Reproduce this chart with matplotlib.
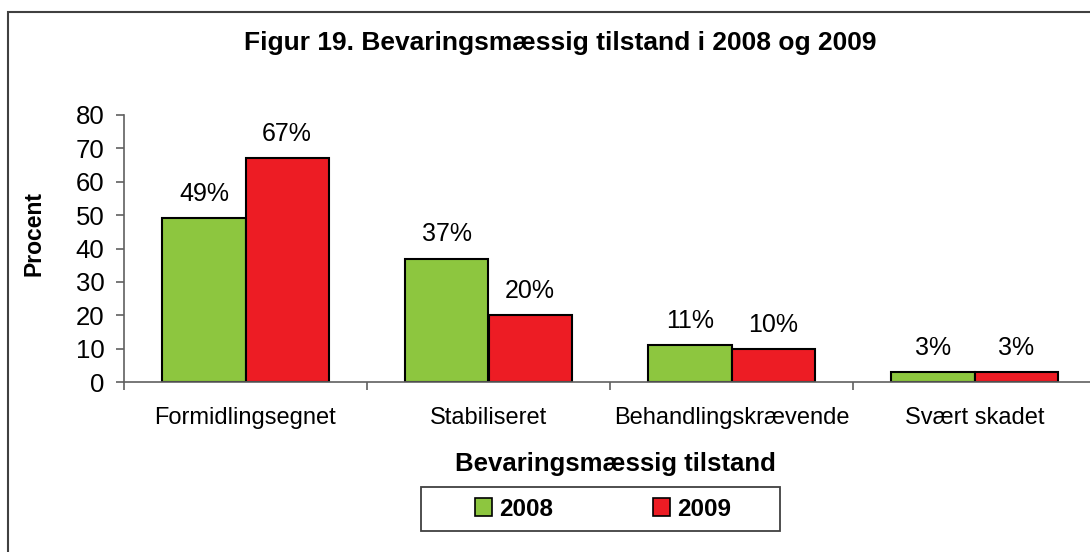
import matplotlib
matplotlib.use("Agg")
import matplotlib.pyplot as plt
from matplotlib.patches import Rectangle, Patch
import numpy as np

categories = ["Formidlingsegnet", "Stabiliseret", "Behandlingskrævende", "Svært skadet"]
years = ["2008", "2009"]
values_2008 = [49, 37, 11, 3]
values_2009 = [67, 20, 10, 3]
colors = ["#8DC63F", "#ED1C24"]

plt.rcParams['font.family'] = ['Liberation Sans', 'DejaVu Sans']

fig = plt.figure(figsize=(10.9, 5.52), dpi=100)
W, H = 1090, 552
# figure border (only top/left visible)
fig.patches.append(Rectangle((8 / W, 0 - 0.05), 1.2, 1 - 12 / H + 0.05, transform=fig.transFigure,
                             fill=False, edgecolor="#404040", linewidth=1.5, figure=fig))

left, right, bottom, top = 124, 1096, 382, 115
ax = fig.add_axes([left / W, 1 - bottom / H, (right - left) / W, (bottom - top) / H])
ax.set_clip_on(False)

x = np.arange(len(categories))
bw = 0.3416
b1 = ax.bar(x - bw / 2, values_2008, bw, color=colors[0], edgecolor="black", linewidth=1.5, label=years[0])
b2 = ax.bar(x + bw / 2, values_2009, bw, color=colors[1], edgecolor="black", linewidth=1.5, label=years[1])
for bars, vals in ((b1, values_2008), (b2, values_2009)):
    for r, v in zip(bars, vals):
        ax.text(r.get_x() + r.get_width() / 2, v + 5.1, f"{v}%", ha="center", va="baseline", fontsize=18)

ax.set_xlim(-0.5, len(categories) - 0.5)
ax.set_ylim(0, 80)
ax.set_yticks(range(0, 81, 10))
ax.set_xticks(np.arange(-0.5, len(categories), 1.0))
ax.set_xticklabels([])
ax.set_xticks(x, minor=True)
ax.set_xticklabels(categories, minor=True, fontsize=17)
ax.tick_params(axis="x", which="minor", length=0, pad=18)
ax.tick_params(axis="x", which="major", length=6, direction="out", color="#606060", width=1.2)
ax.tick_params(axis="y", labelsize=18.5, length=6, direction="out", color="#606060", width=1.2, pad=8)
for s in ("top", "right"):
    ax.spines[s].set_visible(False)
for s in ("left", "bottom"):
    ax.spines[s].set_color("#606060")
    ax.spines[s].set_linewidth(1.2)

fig.text(34 / W, 1 - 234 / H, "Procent", rotation=90, ha="center", va="center", fontsize=16.5, fontweight="bold")
fig.text(615 / W, 1 - 464 / H, "Bevaringsmæssig tilstand", ha="center", va="center", fontsize=18.5, fontweight="bold")
fig.text(560 / W, 1 - 43 / H, "Figur 19. Bevaringsmæssig tilstand i 2008 og 2009", ha="center", va="center",
         fontsize=19, fontweight="bold")

# legend frame
fig.patches.append(Rectangle((421 / W, 1 - 531 / H), (780 - 421) / W, (531 - 487) / H,
                             transform=fig.transFigure, fill=False, edgecolor="#404040",
                             linewidth=1.3, figure=fig))
handles = [Patch(facecolor=colors[0], edgecolor="black", linewidth=1.2),
           Patch(facecolor=colors[1], edgecolor="black", linewidth=1.2)]
leg = fig.legend(handles, years, loc="center", bbox_to_anchor=(603 / W, 1 - 509 / H), ncol=2,
                 prop={"size": 17.5, "weight": "bold"}, frameon=False,
                 handlelength=0.7, handleheight=0.7, handletextpad=0.3, columnspacing=4.1,
                 borderpad=0.0, borderaxespad=0)

fig.savefig("out.png", dpi=100)
